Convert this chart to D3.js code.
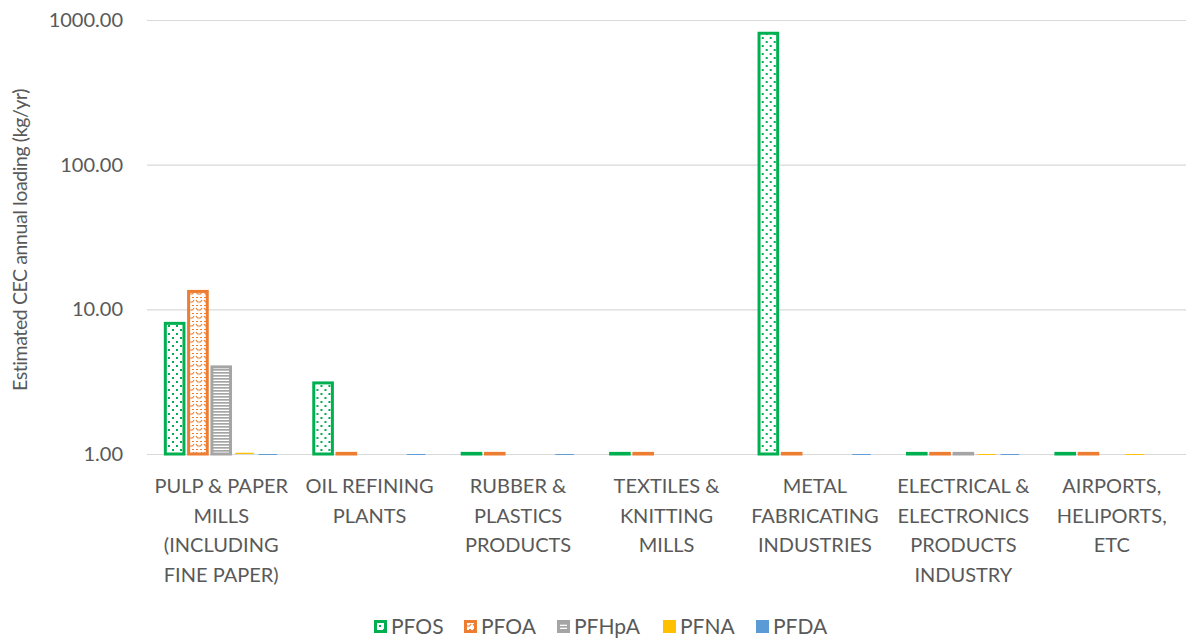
<!DOCTYPE html>
<html>
<head>
<meta charset="utf-8">
<script src="https://cdn.jsdelivr.net/npm/d3@7"></script>
<style>
  html, body { margin: 0; padding: 0; background: #fff; }
  svg { display: block; }
  text { font-family: Lato, "Open Sans", sans-serif; fill: #595959; }
</style>
</head>
<body>
<svg id="chart" width="1186" height="638"></svg>
<script>
// Industry sectors (category axis), one line per array entry
const categories = [
  ["PULP & PAPER", "MILLS", "(INCLUDING", "FINE PAPER)"],
  ["OIL REFINING", "PLANTS"],
  ["RUBBER &", "PLASTICS", "PRODUCTS"],
  ["TEXTILES &", "KNITTING", "MILLS"],
  ["METAL", "FABRICATING", "INDUSTRIES"],
  ["ELECTRICAL &", "ELECTRONICS", "PRODUCTS", "INDUSTRY"],
  ["AIRPORTS,", "HELIPORTS,", "ETC"]
];

const seriesNames = ["PFOS", "PFOA", "PFHpA", "PFNA", "PFDA"];

// Estimated annual loadings, kg/yr (null = no estimate)
const pfos  = [8.0, 3.1, 1.01, 1.01, 810, 1.01, 1.01];
const pfoa  = [13.3, 1.01, 1.01, 1.01, 1.01, 1.01, 1.01];
const pfhpa = [4.0, null, null, null, null, 1.01, null];
const pfna  = [1.02, null, null, null, null, 0.985, 0.985];
const pfda  = [0.985, 0.985, 0.985, null, 0.985, 0.985, null];

const yTicks = [1, 10, 100, 1000];
const yTitle = "Estimated CEC annual loading (kg/yr)";

const seriesValues = [pfos, pfoa, pfhpa, pfna, pfda];

const svg = d3.select("#chart");
const defs = svg.append("defs");

// Fill patterns for the outlined series
const pDots = defs.append("pattern").attr("id", "pat-pfos")
  .attr("patternUnits", "userSpaceOnUse").attr("width", 8).attr("height", 8);
pDots.append("rect").attr("width", 8).attr("height", 8).attr("fill", "#fff");
pDots.append("rect").attr("x", 1).attr("y", 1).attr("width", 2).attr("height", 2).attr("fill", "#00b050");
pDots.append("rect").attr("x", 5).attr("y", 5).attr("width", 2).attr("height", 2).attr("fill", "#00b050");

const pDivot = defs.append("pattern").attr("id", "pat-pfoa")
  .attr("patternUnits", "userSpaceOnUse").attr("width", 8).attr("height", 8);
pDivot.append("rect").attr("width", 8).attr("height", 8).attr("fill", "#fff");
pDivot.append("path").attr("d", "M1,1.5 h2 M5,1.5 h2 M1,4 l1.5,2 h3 l1.5,-2")
  .attr("stroke", "#ed7d31").attr("stroke-width", 1.2).attr("fill", "none");

const pLines = defs.append("pattern").attr("id", "pat-pfhpa")
  .attr("patternUnits", "userSpaceOnUse").attr("width", 8).attr("height", 3);
pLines.append("rect").attr("width", 8).attr("height", 3).attr("fill", "#fff");
pLines.append("rect").attr("y", 0).attr("width", 8).attr("height", 1.7).attr("fill", "#a5a5a5");

const styles = [
  { fill: "url(#pat-pfos)",  stroke: "#00b050", sw: 3 },
  { fill: "url(#pat-pfoa)",  stroke: "#ed7d31", sw: 3 },
  { fill: "url(#pat-pfhpa)", stroke: "#a5a5a5", sw: 3 },
  { fill: "#ffc000", stroke: "none", sw: 0 },
  { fill: "#5b9bd5", stroke: "none", sw: 0 }
];

const plot = { left: 147, right: 1186, top: 20, bottom: 454 };

const x0 = d3.scaleBand().domain(d3.range(categories.length))
  .range([plot.left, plot.right]).paddingInner(0).paddingOuter(0);
const groupPad = 16;
const x1 = d3.scaleBand().domain(d3.range(seriesNames.length))
  .range([0, x0.bandwidth() - 2 * groupPad]).padding(0.2).paddingOuter(0.1);
const y = d3.scaleLog().domain([1, 1000]).range([plot.bottom, plot.top]);

// Gridlines + tick labels
const yAxis = d3.axisLeft(y).tickValues(yTicks)
  .tickFormat(d3.format(".2f")).tickSize(-(plot.right - plot.left)).tickPadding(24);
const gy = svg.append("g").attr("transform", `translate(${plot.left},0)`).call(yAxis);
gy.select(".domain").remove();
gy.selectAll(".tick line").attr("stroke", "#d9d9d9").attr("stroke-width", 1.2);
gy.selectAll(".tick text").attr("font-size", 20).attr("x", -24).style("fill", "#595959");

// Bars
const groups = svg.append("g").selectAll("g")
  .data(categories.map((c, i) => i)).join("g")
  .attr("transform", i => `translate(${x0(i) + groupPad},0)`);

groups.selectAll("rect")
  .data(i => seriesValues.map((vals, s) => ({ s, v: vals[i] })).filter(d => d.v != null))
  .join("rect")
  .attr("x", d => x1(d.s))
  .attr("width", x1.bandwidth())
  .attr("y", d => Math.min(y(d.v), y(1)))
  .attr("height", d => Math.max(Math.abs(y(1) - y(d.v)), 0.5))
  .attr("fill", d => styles[d.s].fill)
  .attr("stroke", d => styles[d.s].stroke)
  .attr("stroke-width", d => styles[d.s].sw);

// Category labels
const catG = svg.append("g");
categories.forEach((lines, i) => {
  const t = catG.append("text")
    .attr("x", x0(i) + x0.bandwidth() / 2)
    .attr("y", 493)
    .attr("text-anchor", "middle")
    .attr("font-size", 20);
  lines.forEach((ln, k) => {
    t.append("tspan").attr("x", x0(i) + x0.bandwidth() / 2)
      .attr("dy", k === 0 ? 0 : 29.5).text(ln);
  });
});

// Axis title
svg.append("text")
  .attr("transform", "translate(27,240) rotate(-90)")
  .attr("text-anchor", "middle")
  .attr("font-size", 19.5)
  .attr("letter-spacing", -0.4)
  .text(yTitle);

// Legend
const legendX = [374, 464, 557, 663, 756];
const lg = svg.append("g");
seriesNames.forEach((name, s) => {
  const g = lg.append("g").attr("transform", `translate(${legendX[s]},620)`);
  if (styles[s].sw) {
    g.append("rect").attr("x", 1.5).attr("y", 1.5).attr("width", 10).attr("height", 10)
      .attr("fill", styles[s].fill).attr("stroke", styles[s].stroke).attr("stroke-width", 3);
  } else {
    g.append("rect").attr("x", 0).attr("y", 0).attr("width", 13).attr("height", 13)
      .attr("fill", styles[s].fill);
  }
  g.append("text").attr("x", 17).attr("y", 13.5).attr("font-size", 21).text(name);
});
</script>
</body>
</html>
